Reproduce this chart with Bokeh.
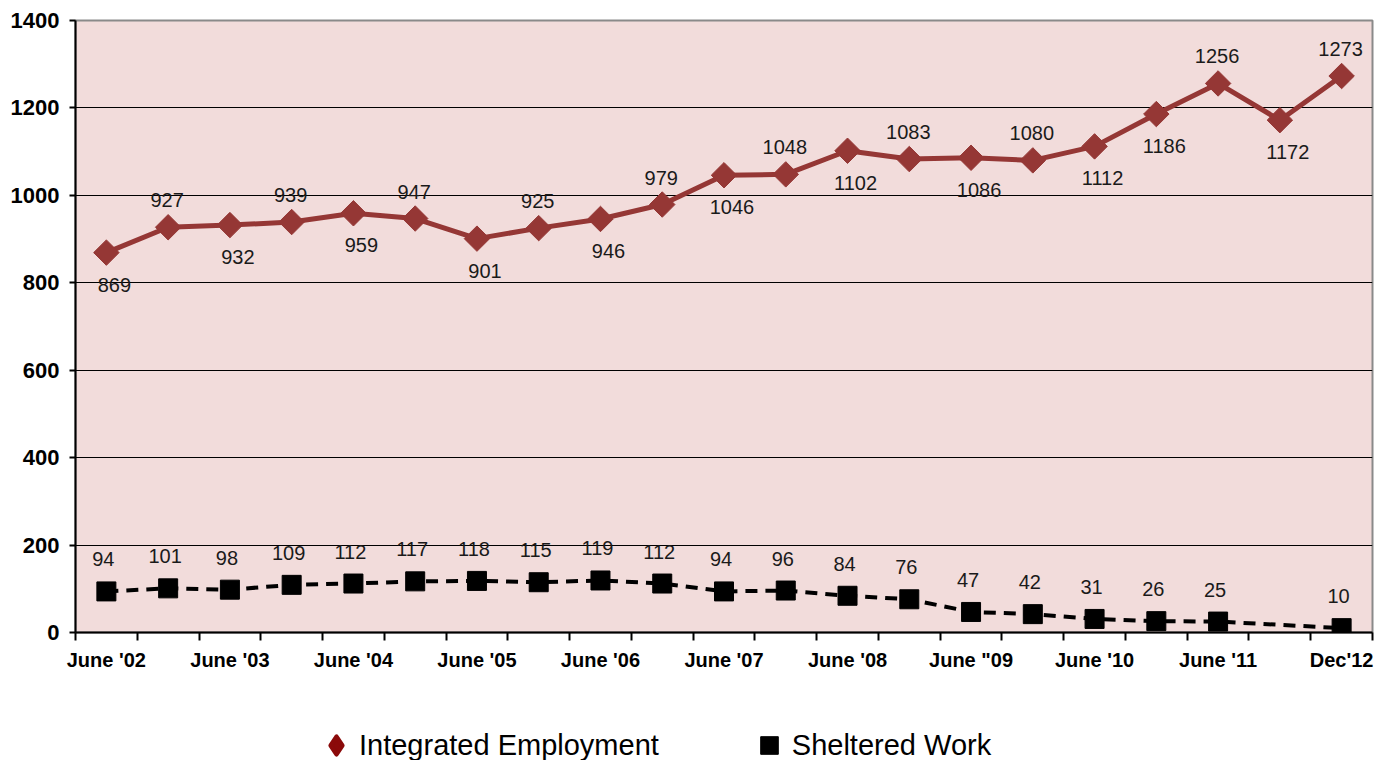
import numpy as np
from bokeh.plotting import figure
from bokeh.layouts import column
from bokeh.models import (ColumnDataSource, LabelSet, FixedTicker, Legend,
                          LegendItem, Range1d)
from bokeh.embed import file_html
from bokeh.resources import INLINE
from bokeh.core.properties import value

# ---- data ----
tick_labels = ["June '02", "June '03", "June '04", "June '05", "June '06",
               "June '07", "June '08", 'June "09', "June '10", "June '11", "Dec'12"]
tick_index = [0, 2, 4, 6, 8, 10, 12, 14, 16, 18, 20]

integrated = [869, 927, 932, 939, 959, 947, 901, 925, 946, 979, 1046,
              1048, 1102, 1083, 1086, 1080, 1112, 1186, 1256, 1172, 1273]
sheltered = [94, 101, 98, 109, 112, 117, 118, 115, 119, 112, 94,
             96, 84, 76, 47, 42, 31, 26, 25, None, 10]

# label placement (style): above / below the marker
integrated_side = ["below", "above", "below", "above", "below", "above", "below",
                   "above", "below", "above", "below", "above", "below", "above",
                   "below", "above", "below", "below", "above", "below", "above"]

RED = "#953735"
FONT = "Liberation Sans"

x_all = list(range(len(integrated)))

p = figure(width=1380, height=690,
           x_range=Range1d(-0.5, len(integrated) - 0.5),
           y_range=Range1d(0, 1400),
           output_backend="svg", toolbar_location=None,
           min_border_left=75, min_border_right=8,
           min_border_top=20, min_border_bottom=58,
           background_fill_color="#F2DCDB", border_fill_color="white")

p.outline_line_color = "#8a8a8a"
p.outline_line_width = 2

# y axis
p.yaxis.ticker = FixedTicker(ticks=list(range(0, 1401, 200)))
p.yaxis.axis_line_color = "black"
p.yaxis.axis_line_width = 2
p.yaxis.major_tick_out = 6
p.yaxis.major_tick_in = 0
p.yaxis.major_tick_line_width = 2
p.yaxis.minor_tick_line_color = None
p.yaxis.major_label_standoff = 10
p.yaxis.major_label_text_font = FONT
p.yaxis.major_label_text_font_style = "bold"
p.yaxis.major_label_text_font_size = "22px"
p.yaxis.major_label_text_color = "black"

# x axis
p.xaxis.ticker = FixedTicker(ticks=tick_index,
                             minor_ticks=[i - 0.5 for i in range(len(integrated) + 1)])
p.xaxis.major_label_overrides = {i: t for i, t in zip(tick_index, tick_labels)}
p.xaxis.axis_line_color = "black"
p.xaxis.axis_line_width = 2
p.xaxis.major_tick_out = 0
p.xaxis.major_tick_in = 0
p.xaxis.major_tick_line_color = None
p.xaxis.minor_tick_out = 8
p.xaxis.minor_tick_in = 0
p.xaxis.minor_tick_line_width = 2
p.xaxis.minor_tick_line_color = "black"
p.xaxis.major_label_standoff = 8
p.xaxis.major_label_text_font = FONT
p.xaxis.major_label_text_font_style = "bold"
p.xaxis.major_label_text_font_size = "20px"
p.xaxis.major_label_text_color = "black"

p.xgrid.visible = False
p.ygrid.grid_line_color = "black"
p.ygrid.grid_line_width = 1

# integrated employment
src_i = ColumnDataSource(dict(
    x=x_all, y=integrated, text=[str(v) for v in integrated],
    yo=[27 if s == "above" else -32 for s in integrated_side],
    xo=[-1 if s == "above" else 8 for s in integrated_side]))
p.line("x", "y", source=src_i, line_color=RED, line_width=5)
p.scatter("x", "y", source=src_i, marker="square", angle=np.pi / 4, size=18,
          fill_color=RED, line_color=RED)

# sheltered work
xs = [i for i, v in enumerate(sheltered) if v is not None]
ys = [v for v in sheltered if v is not None]
src_s = ColumnDataSource(dict(x=xs, y=ys, text=[str(v) for v in ys]))
p.line("x", "y", source=src_s, line_color="black", line_width=4, line_dash="12 8")
p.scatter("x", "y", source=src_s, marker="square", size=19,
          fill_color="black", line_color="black")

p.add_layout(LabelSet(x="x", y="y", text="text", source=src_i,
                      x_offset="xo", y_offset="yo",
                      text_align="center", text_baseline="middle",
                      text_font=value(FONT), text_font_size="20px",
                      text_color="#1a1a1a"))
p.add_layout(LabelSet(x="x", y="y", text="text", source=src_s,
                      x_offset=-3, y_offset=32,
                      text_align="center", text_baseline="middle",
                      text_font=value(FONT), text_font_size="20px",
                      text_color="#1a1a1a"))

# ---- legend strip (separate figure below the chart) ----
lg = figure(width=1380, height=70, x_range=Range1d(0, 1), y_range=Range1d(0, 1),
            output_backend="svg", toolbar_location=None,
            x_axis_location=None, y_axis_location=None,
            min_border_left=0, min_border_right=0, min_border_top=0,
            min_border_bottom=0, outline_line_color=None,
            background_fill_color="white", border_fill_color="white")
lg.xgrid.visible = False
lg.ygrid.visible = False

nan = float("nan")
leg_i = lg.scatter(x=[nan], y=[nan], marker="diamond", size=20, fill_color="#8B0A0A",
                   line_color="#8B0A0A", line_width=4.5, line_join="round")
leg_s = lg.scatter(x=[nan], y=[nan], marker="square", size=17, fill_color="black",
                   line_color="black")

legend = Legend(items=[LegendItem(label="Integrated Employment", renderers=[leg_i]),
                       LegendItem(label="Sheltered Work", renderers=[leg_s])],
                orientation="horizontal", padding=0, margin=0, spacing=87,
                border_line_color=None, background_fill_alpha=0,
                label_text_font=FONT, label_text_font_size="29px",
                label_text_color="black", label_standoff=0,
                glyph_width=46, glyph_height=44,
                location=(238, -7))
lg.add_layout(legend, "center")

layout = column(p, lg, spacing=0)
open("out.html", "w").write(file_html(layout, INLINE))
